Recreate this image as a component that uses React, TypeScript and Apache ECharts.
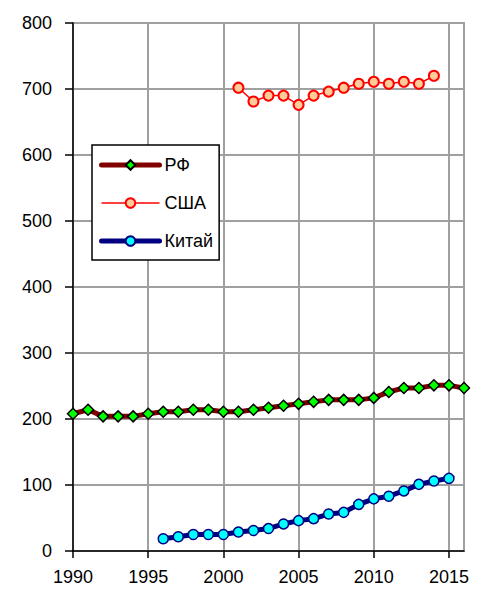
import React, { useEffect, useRef } from "react";
import * as echarts from "echarts";

const years = [1990,1991,1992,1993,1994,1995,1996,1997,1998,1999,2000,2001,2002,2003,2004,2005,2006,2007,2008,2009,2010,2011,2012,2013,2014,2015,2016];
const rf = [208,214,204,204,204,208,211,211,214,214,211,211,214,217,220,223,226,229,229,229,232,241,247,247,251,251,247];
const usaYears = [2001,2002,2003,2004,2005,2006,2007,2008,2009,2010,2011,2012,2013,2014];
const usa = [702,681,690,690,676,690,696,702,708,711,708,711,708,720];
const chinaYears = [1996,1997,1998,1999,2000,2001,2002,2003,2004,2005,2006,2007,2008,2009,2010,2011,2012,2013,2014,2015];
const china = [18.6,21.6,25,25,25,28.7,31,34,41,46,49,56,58.5,70.6,79,83,91,101,106,110];
const xTicks = [1990,1995,2000,2005,2010,2015];
const names = ["РФ", "США", "Китай"];

const font = "'Liberation Sans', Arial, sans-serif";

export default function App() {
  const ref = useRef<HTMLDivElement>(null);
  useEffect(() => {
    const chart = echarts.init(ref.current!, null, { renderer: "svg" });
    const pair = (xs: number[], ys: number[]) => xs.map((x, i) => [x, ys[i]]);
    chart.setOption({
      animation: false,
      backgroundColor: "#fff",
      grid: {
        left: 73, right: 14, top: 23, bottom: 39,
        show: true, borderColor: "#a0a0a0", borderWidth: 2,
      },
      legend: {
        orient: "vertical",
        left: 92, top: 145,
        width: 137,
        padding: [10, 6, 9, 7],
        itemWidth: 58, itemHeight: 12, itemGap: 18,
        backgroundColor: "#fff",
        borderColor: "#000", borderWidth: 1.5,
        textStyle: { fontFamily: font, fontSize: 18, color: "#000", lineHeight: 20 },
        data: [
          { name: names[0], lineStyle: { width: 5, cap: "round" } },
          { name: names[1], lineStyle: { width: 1.5 } },
          { name: names[2], lineStyle: { width: 5, cap: "round" } },
        ],
      },
      xAxis: {
        type: "value", min: 1990, max: 2016, interval: 5,
        axisLine: { show: true, lineStyle: { color: "#000", width: 1.5 } },
        axisTick: { show: true, length: 7, inside: false, lineStyle: { color: "#000", width: 1.5 }, customValues: xTicks },
        axisLabel: { fontFamily: font, fontSize: 18, color: "#000", margin: 17, formatter: (v: number) => String(v), customValues: xTicks },
        splitLine: { show: true, lineStyle: { color: "#a0a0a0", width: 2 } },
      },
      yAxis: {
        type: "value", min: 0, max: 800, interval: 100,
        axisLine: { show: true, lineStyle: { color: "#000", width: 1.5 } },
        axisTick: { show: true, length: 8, lineStyle: { color: "#000", width: 1.5 } },
        axisLabel: { fontFamily: font, fontSize: 18, color: "#000", margin: 21 },
        splitLine: { show: true, lineStyle: { color: "#a0a0a0", width: 2 } },
      },
      series: [
        {
          name: names[0], type: "line", data: pair(years, rf),
          symbol: "diamond", symbolSize: 11,
          lineStyle: { color: "#800000", width: 5 },
          itemStyle: { color: "#00ff00", borderColor: "#000", borderWidth: 1.5 },
          z: 3,
        },
        {
          name: names[1], type: "line", data: pair(usaYears, usa),
          symbol: "circle", symbolSize: 10,
          lineStyle: { color: "#ff0000", width: 1.5 },
          itemStyle: { color: "#ffcc99", borderColor: "#ff0000", borderWidth: 2 },
          z: 3,
        },
        {
          name: names[2], type: "line", data: pair(chinaYears, china),
          symbol: "circle", symbolSize: 10,
          lineStyle: { color: "#000080", width: 5 },
          itemStyle: { color: "#00ffff", borderColor: "#000080", borderWidth: 1.5 },
          z: 3,
        },
      ],
    });
    return () => chart.dispose();
  }, []);
  return <div ref={ref} style={{ width: 478, height: 590, position: "absolute", left: 0, top: 0 }} />;
}
